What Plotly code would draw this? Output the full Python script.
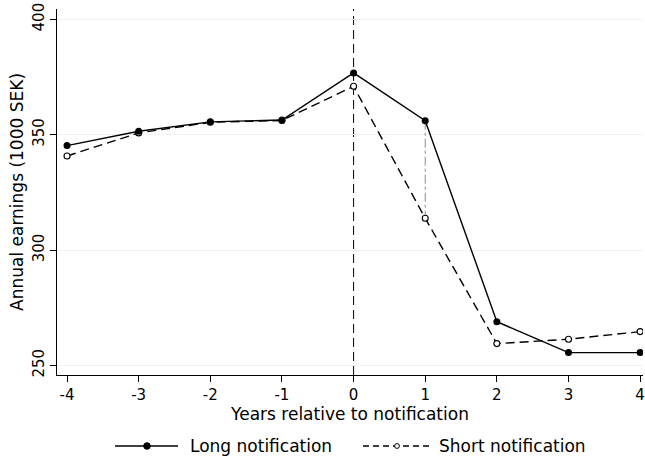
import plotly.graph_objects as go

# Years relative to notification
years = [-4, -3, -2, -1, 0, 1, 2, 3, 4]

# Annual earnings (1000 SEK)
long_notice = [345.3, 351.5, 355.6, 356.4, 376.8, 356.1, 269.0, 255.6, 255.6]
short_notice = [340.8, 350.8, 355.4, 356.2, 371.0, 313.8, 259.5, 261.4, 264.7]

y_ticks = [250, 300, 350, 400]
x_ticks = years

series_names = ["Long notification", "Short notification"]

FONT = "DejaVu Sans"
W, H = 645, 461
DASH = "9px,5px"

# plot region in pixels (margins are zero, so paper units map to pixels)
PX_L, PX_R, PX_T, PX_B = 57, 643, 9, 375

fig = go.Figure()

# gap between the two groups one year after notification
gap_year = 1
gi = years.index(gap_year)
fig.add_trace(go.Scatter(
    x=[gap_year, gap_year], y=[long_notice[gi], short_notice[gi]],
    mode="lines", line=dict(color="#8c8c8c", width=1, dash="dashdot"),
    showlegend=False, hoverinfo="skip",
))

# short notification first so the long-notification markers sit on top
fig.add_trace(go.Scatter(
    x=years, y=short_notice, mode="lines+markers", name=series_names[1],
    line=dict(color="black", width=1.4, dash=DASH),
    marker=dict(symbol="circle", size=6, color="white", line=dict(width=1.1, color="black")),
    showlegend=False,
))
fig.add_trace(go.Scatter(
    x=years, y=long_notice, mode="lines+markers", name=series_names[0],
    line=dict(color="black", width=1.4),
    marker=dict(symbol="circle", size=7, color="black"),
    showlegend=False,
))

# notification date
fig.add_shape(type="line", xref="x", yref="paper", x0=0, x1=0,
              y0=1 - PX_B / H, y1=1 - PX_T / H,
              line=dict(color="black", width=1, dash=DASH), layer="below")

# legend drawn below the plot, in pixel units
def px(x):
    return x / W

def py(y):
    return 1 - y / H

LEG_Y = 446
legend_items = [
    dict(x0=115, x1=178, xm=147, tx=188, dash="solid", filled=True, r=3.3),
    dict(x0=363, x1=430, xm=397, tx=437, dash="6px,4px", filled=False, r=2.4),
]
for name, it in zip(series_names, legend_items):
    fig.add_shape(type="line", xref="paper", yref="paper",
                  x0=px(it["x0"]), x1=px(it["x1"]), y0=py(LEG_Y), y1=py(LEG_Y),
                  line=dict(color="black", width=1.4, dash=it["dash"]))
    r = it["r"]
    fig.add_shape(type="circle", xref="paper", yref="paper",
                  x0=px(it["xm"] - r), x1=px(it["xm"] + r),
                  y0=py(LEG_Y + r), y1=py(LEG_Y - r),
                  fillcolor="black" if it["filled"] else "white",
                  line=dict(color="black", width=1))
    fig.add_annotation(text=name, xref="paper", yref="paper",
                       x=px(it["tx"]), y=py(LEG_Y), xanchor="left", yanchor="middle",
                       showarrow=False, font=dict(family=FONT, size=17, color="black"))

fig.update_layout(
    width=W, height=H,
    margin=dict(l=0, r=0, t=0, b=0),
    paper_bgcolor="white", plot_bgcolor="white",
    font=dict(family=FONT, size=15, color="black"),
    showlegend=False,
    xaxis=dict(
        domain=[PX_L / W, PX_R / W],
        range=[-4.14, 4.04], tickvals=x_ticks, ticktext=[str(v) for v in x_ticks],
        showgrid=False, zeroline=False, showline=True, linecolor="black", linewidth=1,
        ticks="outside", ticklen=6, tickcolor="black",
        title=dict(text="Years relative to notification", standoff=2, font=dict(size=17)),
        tickfont=dict(size=15), automargin=False,
    ),
    yaxis=dict(
        domain=[1 - PX_B / H, 1 - PX_T / H],
        range=[245.9, 404.5], tickvals=y_ticks, ticktext=[str(v) for v in y_ticks],
        showgrid=True, gridcolor="#eaf2f3", gridwidth=1, zeroline=False,
        showline=True, linecolor="black", linewidth=1,
        ticks="outside", ticklen=6, tickcolor="black", tickangle=-90,
        title=dict(text="Annual earnings (1000 SEK)", standoff=2, font=dict(size=17)),
        tickfont=dict(size=15), automargin=False,
    ),
)

fig.write_html("out.html")
